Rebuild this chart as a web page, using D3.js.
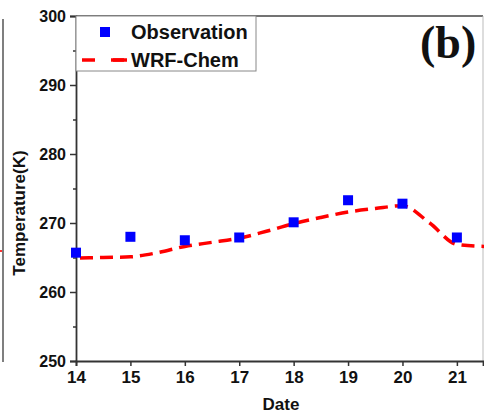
<!DOCTYPE html>
<html><head><meta charset="utf-8">
<script src="https://cdn.jsdelivr.net/npm/d3@7/dist/d3.min.js"></script>
<style>body{margin:0;background:#fff;} svg{display:block;}</style>
</head><body>
<svg id="c" width="484" height="413"></svg>
<script>
const obsDates = [14, 15, 16, 17, 18, 19, 20, 21];
const obsTemps = [265.7, 268.0, 267.5, 267.9, 270.1, 273.3, 272.8, 267.9];
const modelDates = [14, 14.5, 15, 15.5, 16, 16.5, 17, 17.5, 18, 18.5, 19, 19.5, 20, 20.5, 21, 21.5];
const modelTemps = [264.9, 265.0, 265.1, 265.7, 266.6, 267.2, 267.8, 268.8, 269.9, 270.8, 271.6, 272.1, 272.5, 270.0, 266.9, 266.6];
const xTicks = [14, 15, 16, 17, 18, 19, 20, 21];
const yTicks = [250, 260, 270, 280, 290, 300];
const yMinor = [255, 265, 275, 285, 295];

const svg = d3.select("#c");
const L = 76, T = 16, R = 483, B = 361;
const x = d3.scaleLinear().domain([14, 21.48]).range([L, R]);
const y = d3.scaleLinear().domain([250, 300]).range([B, T]);
const font = "'Liberation Sans', Arial, sans-serif";

// fragment of neighbouring panel
svg.append("line").attr("x1", 3).attr("x2", 3).attr("y1", 19).attr("y2", 362)
  .attr("stroke", "#555").attr("stroke-width", 1.5);
svg.append("line").attr("x1", 0).attr("x2", 2).attr("y1", 251).attr("y2", 251)
  .attr("stroke", "#f33").attr("stroke-width", 2);

// frame
svg.append("line").attr("x1", L).attr("x2", R).attr("y1", T).attr("y2", T).attr("stroke", "#444").attr("stroke-width", 1.5);
svg.append("line").attr("x1", R).attr("x2", R).attr("y1", T).attr("y2", B).attr("stroke", "#bbb").attr("stroke-width", 1);

// axes
const xAxis = d3.axisBottom(x).tickValues(xTicks).tickSize(5).tickPadding(5).tickFormat(d3.format("d"));
const gx = svg.append("g").attr("transform", `translate(0,${B})`).call(xAxis);
gx.select(".domain").attr("stroke", "#333").attr("stroke-width", 1.8);
gx.selectAll(".tick line").attr("stroke", "#333").attr("stroke-width", 1.5);
gx.selectAll("text").attr("font-family", font).attr("font-weight", "bold").attr("font-size", 17).attr("fill", "#111");

const yAxis = d3.axisLeft(y).tickValues(yTicks).tickSize(6).tickPadding(4).tickFormat(d3.format("d"));
const gy = svg.append("g").attr("transform", `translate(${L},0)`).call(yAxis);
gy.select(".domain").attr("stroke", "#333").attr("stroke-width", 1.8);
gy.selectAll(".tick line").attr("stroke", "#333").attr("stroke-width", 1.5);
gy.selectAll("text").attr("font-family", font).attr("font-weight", "bold").attr("font-size", 16).attr("fill", "#111");
const gym = svg.append("g").attr("transform", `translate(${L},0)`).call(d3.axisLeft(y).tickValues(yMinor).tickSize(3).tickFormat(""));
gym.select(".domain").remove();
gym.selectAll(".tick line").attr("stroke", "#333").attr("stroke-width", 1.5);

// titles
svg.append("text").attr("x", 281).attr("y", 410).attr("text-anchor", "middle")
  .attr("font-family", font).attr("font-weight", "bold").attr("font-size", 17).attr("fill", "#111").text("Date");
svg.append("text").attr("transform", "translate(25,213) rotate(-90)").attr("text-anchor", "middle")
  .attr("font-family", font).attr("font-weight", "bold").attr("font-size", 17).attr("fill", "#111").text("Temperature(K)");

// model line
const line = d3.line().x((d, i) => x(modelDates[i])).y(d => y(d)).curve(d3.curveMonotoneX);
svg.append("path").datum(modelTemps).attr("d", line).attr("fill", "none")
  .attr("stroke", "#f00").attr("stroke-width", 3.5).attr("stroke-dasharray", "13,7")
  .attr("stroke-dashoffset", -4);

// observations
svg.append("g").selectAll("rect").data(obsTemps).join("rect")
  .attr("x", (d, i) => x(obsDates[i]) - 5).attr("y", d => y(d) - 5)
  .attr("width", 10).attr("height", 10).attr("fill", "#0000ff");

// legend
svg.append("rect").attr("x", L).attr("y", T).attr("width", 180).attr("height", 55)
  .attr("fill", "#fff").attr("stroke", "#888").attr("stroke-width", 1);
svg.append("rect").attr("x", 100).attr("y", 27).attr("width", 10).attr("height", 10).attr("fill", "#0000ff");
svg.append("text").attr("x", 131).attr("y", 39).attr("font-family", font).attr("font-weight", "bold")
  .attr("font-size", 20).attr("fill", "#111").text("Observation");
svg.append("line").attr("x1", 82).attr("x2", 127).attr("y1", 60).attr("y2", 60)
  .attr("stroke", "#f00").attr("stroke-width", 3.5).attr("stroke-dasharray", "13,16");
svg.append("line").attr("x1", 113).attr("x2", 127).attr("y1", 60).attr("y2", 60)
  .attr("stroke", "#f00").attr("stroke-width", 3.5);
svg.append("text").attr("x", 131).attr("y", 67).attr("font-family", font).attr("font-weight", "bold")
  .attr("font-size", 20).attr("fill", "#111").text("WRF-Chem");

// panel label
svg.append("text").attr("x", 420).attr("y", 58).attr("font-family", "'Liberation Serif', 'Times New Roman', serif")
  .attr("font-weight", "bold").attr("font-size", 46).attr("fill", "#111").text("(b)");
</script>
</body></html>
